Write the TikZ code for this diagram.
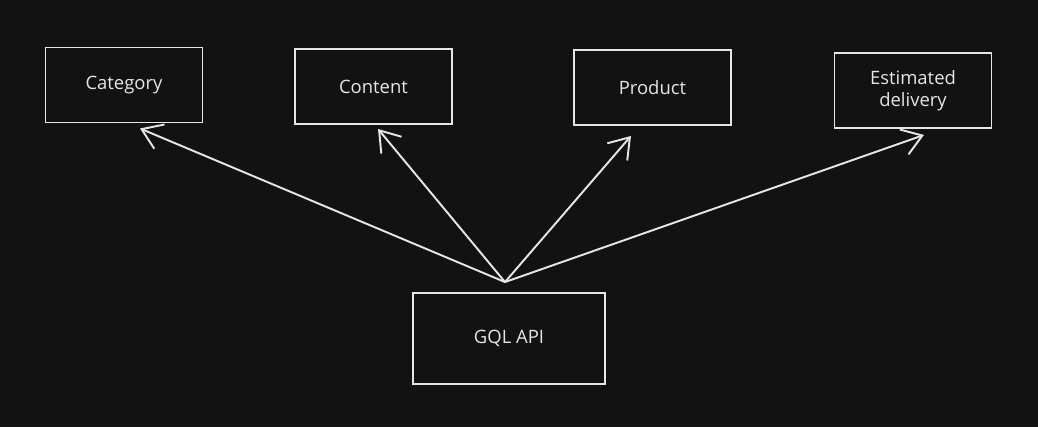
\documentclass[tikz,border=0pt]{standalone}
\usepackage{fontspec}
\setmainfont{Open Sans}
\usepackage{tikz}
\usetikzlibrary{arrows.meta,positioning,calc,backgrounds}
\usepackage{xcolor}
\definecolor{bgdark}{HTML}{121212}
\definecolor{inkwhite}{HTML}{E6E6E6}
\tikzset{
    svc/.style={rectangle, draw=inkwhite, line width=1.1pt, fill=bgdark,
                minimum height=1.5cm, minimum width=3.14cm, inner sep=0pt,
                align=center, text=inkwhite, font=\fontsize{10.5}{12.5}\selectfont},
    api/.style={svc, minimum height=1.82cm, minimum width=3.84cm},
    arr/.style={-{Straight Barb[length=11pt,width=15pt,line width=1.1pt]},
                draw=inkwhite, line width=1.1pt},
}

\begin{document}
\begin{tikzpicture}[x=0.02cm, y=-0.02cm]
    \useasboundingbox (0,0) rectangle (1038,427);
    \fill[bgdark] (0,0) rectangle (1038,427);

    \node[svc] (cat)  at (124,85)    {Category};
    \node[svc] (cont) at (373.5,86.5) {Content};
    \node[svc] (prod) at (652.5,87.5) {Product};
    \node[svc] (est)  at (913,90.5)  {Estimated\\delivery};
    \node[api] (gql)  at (509,338.5) {GQL API};

    % arrows leave from one point just above the API box
    \coordinate (hub)     at ($(gql.north)+(-4,-10)$);
    \coordinate (catTip)  at ($(cat.south)+(16,5)$);
    \coordinate (contTip) at ($(cont.south)+(4.5,4)$);
    \coordinate (prodTip) at ($(prod.south)+(-21.5,10)$);
    \coordinate (estTip)  at ($(est.south)+(11,6)$);

    \draw[arr] (hub) -- (catTip);
    \draw[arr] (hub) -- (contTip);
    \draw[arr] (hub) -- (prodTip);
    \draw[arr] (hub) -- (estTip);
\end{tikzpicture}
\end{document}
